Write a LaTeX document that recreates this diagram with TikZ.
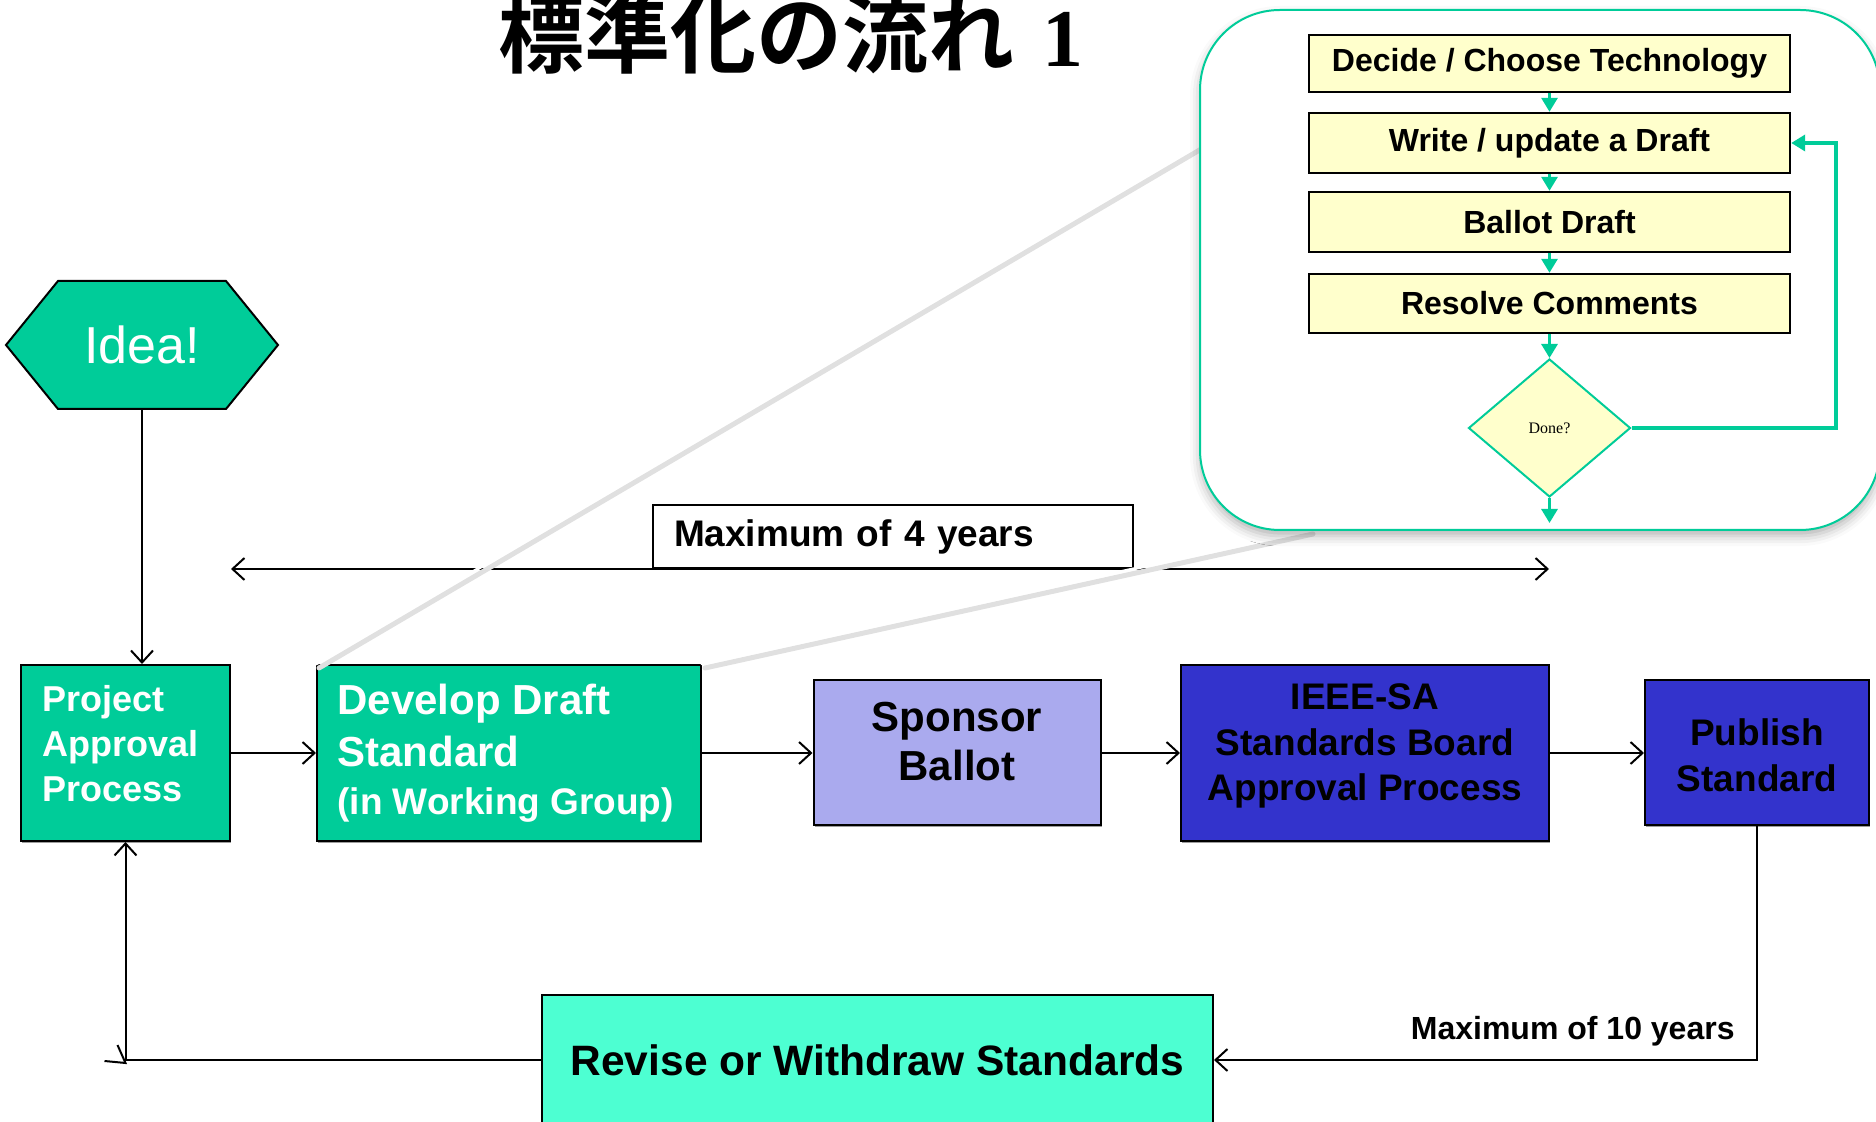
\documentclass[tikz,border=0pt]{standalone}
\usepackage{fontspec}
\setmainfont{Liberation Sans}
\newfontfamily\jpfont{Noto Sans CJK JP}[BoldFont={* Bold}]
\newfontfamily\numfont{Liberation Serif}
\usetikzlibrary{arrows.meta,shapes.geometric,shadows,shadows.blur}
\definecolor{tealfill}{HTML}{00CC99}
\definecolor{aquafill}{HTML}{4DFFD2}
\definecolor{lavfill}{HTML}{AAAAEE}
\definecolor{bluefill}{HTML}{3333CC}
\definecolor{creamfill}{HTML}{FFFFCC}
\begin{document}
\begin{tikzpicture}[x=0.5pt,y=-0.5pt,
  procbox/.style={draw=black, line width=1pt, inner sep=0pt,
    drop shadow={shadow xshift=0.6pt, shadow yshift=-1pt, fill=black!55, opacity=0.7}},
  wtext/.style={text=white, inner sep=0pt, align=left},
  ktext/.style={text=black, inner sep=0pt, align=center},
  flow/.style={line width=1pt, -{Straight Barb[length=6pt,width=11pt]}},
  ybox/.style={draw=black, line width=1.2pt, fill=creamfill, inner sep=0pt,
    minimum width=240.5pt, font=\fontsize{16pt}{19pt}\selectfont\bfseries},
  tflow/.style={draw=tealfill, line width=1.5pt, -{Triangle[length=7pt,width=8pt]}},
  callout/.style={line cap=round}
]
\useasboundingbox (0,0) rectangle (1876,1122);

% title
\node[anchor=base west, inner sep=0pt, font=\fontsize{43pt}{50pt}\selectfont] (title) at (498,67)
  {{\jpfont\bfseries 標準化の流れ}\hspace{14pt}{\fontsize{41pt}{46pt}\selectfont\numfont\bfseries 1}};

% four-year span
\node[draw=black, line width=1pt, fill=white, minimum height=31.5pt, text width=219pt,
  inner xsep=10.5pt, inner ysep=0pt, align=left,
  font=\fontsize{18.5pt}{22pt}\selectfont\bfseries] (m4) at (893,536.5) {Maximum of 4 years};
\coordinate (spanL) at (231,569);
\coordinate (spanR) at (1549,569);
\draw[line width=1pt, {Straight Barb[length=6pt,width=11pt]}-{Straight Barb[length=6pt,width=11pt]}] (spanL) -- (spanR);

% start: hexagon
\draw[fill=tealfill, line width=1pt] (6,345) -- (58,281) -- (226,281) -- (278,345)
  -- (226,409) -- (58,409) -- cycle;
\node[text=white, inner sep=0pt, minimum width=136pt, minimum height=64pt,
  font=\fontsize{26pt}{30pt}\selectfont] (idea) at (142,345) {Idea!};

% main process boxes
\node[procbox, fill=tealfill, minimum width=104.5pt, minimum height=88pt] (pap) at (125.5,753) {};
\node[wtext, anchor=west, font=\fontsize{18pt}{22.5pt}\selectfont\bfseries] (papt) at (42,744)
  {Project\\Approval\\Process};

\node[procbox, fill=tealfill, minimum width=192pt, minimum height=88pt] (dev) at (509,753) {};
\node[wtext, anchor=west, font=\fontsize{21pt}{26pt}\selectfont\bfseries] (devt) at (337,753)
  {Develop Draft\\Standard\\[-2pt]{\fontsize{18.5pt}{23pt}\selectfont (in Working Group)}};

\node[procbox, fill=lavfill, minimum width=143.5pt, minimum height=72.5pt] (sb) at (957,753) {};
\node[ktext, font=\fontsize{21pt}{24.5pt}\selectfont\bfseries] (sbt) at (957,742) {Sponsor\\Ballot};

\node[procbox, fill=bluefill, minimum width=184pt, minimum height=88pt] (ieee) at (1365,753) {};
\node[ktext, font=\fontsize{18.5pt}{22.75pt}\selectfont\bfseries] (ieeet) at (1365,746)
  {IEEE-SA\\Standards Board\\Approval Process};

\node[procbox, fill=bluefill, minimum width=112pt, minimum height=72.5pt] (pub) at (1757,753) {};
\node[ktext, font=\fontsize{18.5pt}{23pt}\selectfont\bfseries] (pubt) at (1757,755) {Publish\\Standard};

\node[procbox, fill=aquafill, minimum width=335.5pt, minimum height=72.5pt] (rev) at (877.5,1067.5) {};
\node[ktext, font=\fontsize{21.25pt}{25pt}\selectfont\bfseries] (revt) at (877.5,1060)
  {Revise or Withdraw Standards};

% connectors of the main flow
\draw[flow] (idea.south) -- (idea.south |- pap.north);
\draw[flow] (pap.east) -- (dev.west);
\draw[flow] (dev.east) -- (sb.west);
\draw[flow] (sb.east) -- (ieee.west);
\draw[flow] (ieee.east) -- (pub.west);
\draw[flow] (pub.south) |- (rev.east |- revt);
\draw[flow] (rev.west |- revt) -| (pap.south);
\coordinate (hook) at ([yshift=-1.5pt]pap.south |- revt);
\draw[line width=1pt] ([shift={(-8,-18)}]hook) -- (hook) -- ([shift={(-21,-2)}]hook);
\node[anchor=east, inner sep=0pt, font=\fontsize{16pt}{19pt}\selectfont\bfseries] (m10) at (1735,1031)
  {Maximum of 10 years};

% callout wedge from the draft box to the detail panel
\coordinate (cA) at (1200,144);
\coordinate (cB) at (1310,530);
\draw[callout, line width=2.5pt, black!12] ([shift={(3,4)}]dev.north west) -- ([shift={(3,4)}]cA);
\draw[callout, line width=2.5pt, black!12] ([shift={(3,4)}]dev.north east) -- ([shift={(3,4)}]cB);
\draw[callout, line width=1.5pt, white] (dev.north west) -- (cA);
\draw[callout, line width=1.5pt, white] (dev.north east) -- (cB);

% detail panel
\node[draw=tealfill, line width=1pt, fill=white, rounded corners=40pt, minimum width=340pt,
  minimum height=260pt, inner sep=0pt,
  blur shadow={shadow xshift=0pt, shadow yshift=-3pt, shadow blur radius=5pt, shadow opacity=30}]
  (panel) at (1540,270) {};

\node[ybox, minimum height=28.5pt] (dec) at (1549.5,63.5) {Decide / Choose Technology};
\node[ybox, minimum height=30pt] (wri) at (1549.5,143) {Write / update a Draft};
\node[ybox, minimum height=30pt] (bal) at (1549.5,222) {Ballot Draft};
\node[ybox, minimum height=29.5pt] (res) at (1549.5,303.5) {Resolve Comments};
\node[diamond, draw=tealfill, line width=1pt, fill=creamfill, shape aspect=1.17,
  minimum width=81pt, minimum height=69pt, inner sep=0pt,
  font=\numfont\fontsize{8pt}{10pt}\selectfont] (done) at (1549.5,428) {Done?};
\coordinate (doneout) at (1549.5,523);
\coordinate (loop) at (1836,428);

\draw[tflow] (dec.south) -- (wri.north);
\draw[tflow] (wri.south) -- (bal.north);
\draw[tflow] (bal.south) -- (res.north);
\draw[tflow] (res.south) -- (done.north);
\draw[tflow] (done.south) -- (doneout);
\draw[tflow, line width=2pt] (done.east) -- (loop) |- (wri.east);
\end{tikzpicture}
\end{document}
